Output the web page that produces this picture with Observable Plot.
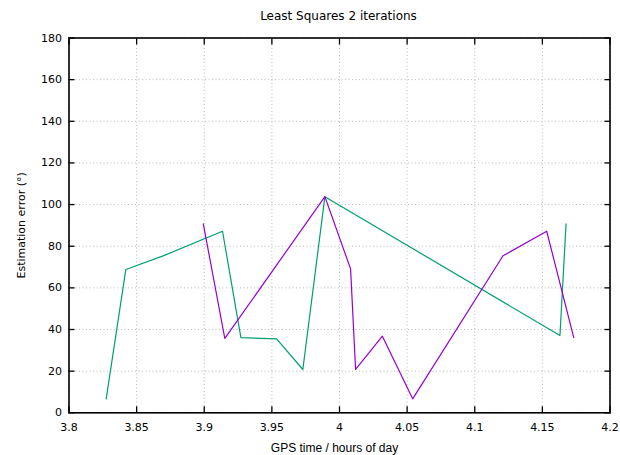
<!DOCTYPE html>
<html>
<head>
<meta charset="utf-8">
<script src="https://cdn.jsdelivr.net/npm/d3@7"></script>
<script src="https://cdn.jsdelivr.net/npm/@observablehq/plot@0.6"></script>
<style>
  html, body { margin: 0; padding: 0; background: #fff; }
  #title { height: 30px; width: 620px; box-sizing: border-box; padding-left: 68px; padding-right: 11px;
           text-align: center; font: 12px "DejaVu Sans", sans-serif; line-height: 32px; color: #000; }
</style>
</head>
<body>
<div id="title">Least Squares 2 iterations</div>
<div id="chart"></div>
<script>
const titleText = "Least Squares 2 iterations";
const xLabel = "GPS time / hours of day";
const yLabel = "Estimation error (°)";

// Series 1 (green)
const greenTime  = [3.8275, 3.842, 3.8701, 3.9135, 3.9271, 3.9535, 3.9729, 3.9892, 4.163, 4.1675];
const greenError = [6.7, 68.8, 75.5, 87.2, 36.1, 35.5, 20.8, 103.8, 37.1, 90.7];

// Series 2 (purple)
const purpleTime  = [3.8993, 3.9152, 3.9892, 4.0082, 4.0119, 4.0317, 4.0541, 4.1209, 4.1532, 4.1732];
const purpleError = [90.7, 35.7, 103.8, 69.1, 20.8, 36.8, 6.7, 75.4, 87.2, 36.1];

const xTicks = [3.8, 3.85, 3.9, 3.95, 4, 4.05, 4.1, 4.15, 4.2];
const yTicks = [0, 20, 40, 60, 80, 100, 120, 140, 160, 180];

const green = greenTime.map((t, i) => ({t, e: greenError[i]}));
const purple = purpleTime.map((t, i) => ({t, e: purpleError[i]}));

const fmtX = d => String(+d.toFixed(2));

const chart = Plot.plot({
  width: 620,
  height: 425,
  marginTop: 7.5,
  marginBottom: 42.7,
  marginLeft: 68.5,
  marginRight: 10.5,
  style: { fontFamily: "'DejaVu Sans', sans-serif", fontSize: "11px", color: "#000", background: "#fff" },
  x: { domain: [3.8, 4.2] },
  y: { domain: [0, 180] },
  marks: [
    Plot.gridX(xTicks, { stroke: "#bbb", strokeOpacity: 1, strokeDasharray: "1,2.5" }),
    Plot.gridY(yTicks, { stroke: "#bbb", strokeOpacity: 1, strokeDasharray: "1,2.5" }),
    // inward ticks on all sides
    Plot.axisX(xTicks, { anchor: "bottom", tickSize: -6, tickFormat: () => "", label: null, strokeWidth: 1.3 }),
    Plot.axisX(xTicks, { anchor: "top", tickSize: -6, tickFormat: () => "", label: null, strokeWidth: 1.3 }),
    Plot.axisY(yTicks, { anchor: "left", tickSize: -6, tickFormat: () => "", label: null, strokeWidth: 1.3 }),
    Plot.axisY(yTicks, { anchor: "right", tickSize: -6, tickFormat: () => "", label: null, strokeWidth: 1.3 }),
    // tick labels
    Plot.axisX(xTicks, { anchor: "bottom", tickSize: 0, tickPadding: 10, tickFormat: fmtX, label: null }),
    Plot.axisY(yTicks, { anchor: "left", tickSize: 0, tickPadding: 7,
      label: yLabel, labelAnchor: "center", labelOffset: 52, labelArrow: "none" }),
    // x axis title
    Plot.text([xLabel], { frameAnchor: "bottom", text: d => d, dy: 39.5, dx: -5, lineAnchor: "bottom",
      fontFamily: "'Liberation Sans', sans-serif", fontSize: 12 }),
    Plot.line(green, { x: "t", y: "e", stroke: "#009e73", strokeWidth: 1.2 }),
    Plot.line(purple, { x: "t", y: "e", stroke: "#9400d3", strokeWidth: 1.2 }),
    Plot.frame({ stroke: "#000", strokeWidth: 1.6 })
  ]
});
document.getElementById("chart").appendChild(chart);
</script>
</body>
</html>
